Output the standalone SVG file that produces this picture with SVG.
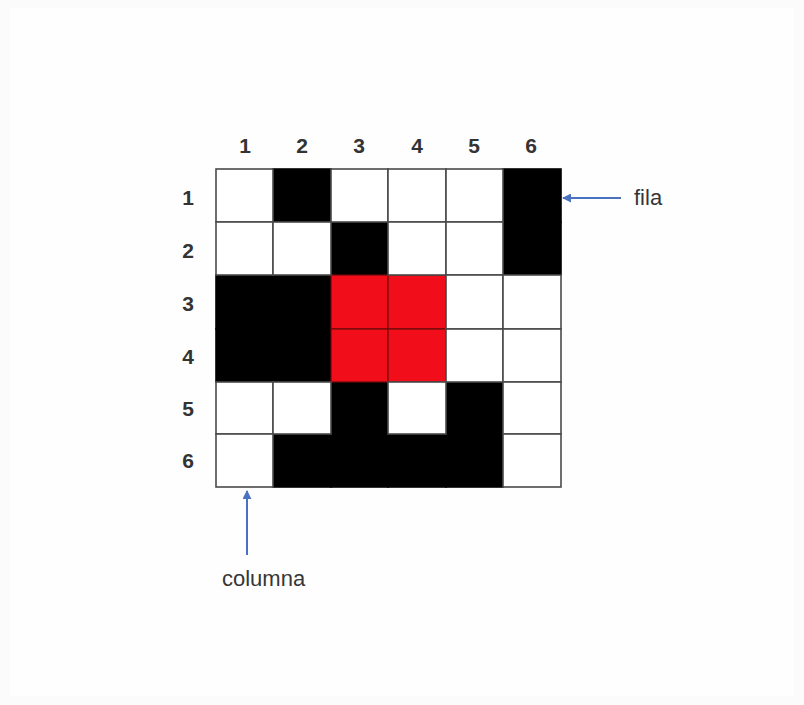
<svg xmlns="http://www.w3.org/2000/svg" width="804" height="705" viewBox="0 0 804 705">
<style>
.w{fill:#ffffff;stroke:#4a4a4a;stroke-width:1.6}
.b{fill:#000000;stroke:#000000;stroke-width:1.6}
.r{fill:#f20d1b;stroke:#6a0a0a;stroke-width:1.2}
.num{font-family:"Liberation Sans",Arial,sans-serif;font-weight:bold;font-size:21px;fill:#333333;text-anchor:middle;dominant-baseline:central}
.lbl{font-family:"Liberation Sans",Arial,sans-serif;font-size:22px;fill:#363636}
.arrow{stroke:#4a72c0;stroke-width:2;fill:none;marker-end:url(#ah)}
</style>
<defs>
<marker id="ah" viewBox="0 0 10 10" refX="9" refY="5" markerWidth="4.5" markerHeight="4.5" orient="auto" markerUnits="strokeWidth">
<path d="M0,0 L10,5 L0,10 z" fill="#4a72c0"/>
</marker>
</defs>
<rect x="0" y="0" width="804" height="705" fill="#fbfbfb"/>
<rect x="10" y="8" width="784" height="688" fill="#fefefe"/>

<g id="grid">
<g id="black-cells">
<rect class="b" x="273" y="169" width="58" height="53"/>
<rect class="b" x="503" y="169" width="58" height="53"/>
<rect class="b" x="331" y="222" width="57" height="53"/>
<rect class="b" x="503" y="222" width="58" height="53"/>
<rect class="b" x="216" y="275" width="57" height="54"/>
<rect class="b" x="273" y="275" width="58" height="54"/>
<rect class="b" x="216" y="329" width="57" height="53"/>
<rect class="b" x="273" y="329" width="58" height="53"/>
<rect class="b" x="331" y="382" width="57" height="52"/>
<rect class="b" x="446" y="382" width="57" height="52"/>
<rect class="b" x="273" y="434" width="58" height="53"/>
<rect class="b" x="331" y="434" width="57" height="53"/>
<rect class="b" x="388" y="434" width="58" height="53"/>
<rect class="b" x="446" y="434" width="57" height="53"/>
</g>
<g id="red-cells">
<rect class="r" x="331" y="275" width="57" height="54"/>
<rect class="r" x="388" y="275" width="58" height="54"/>
<rect class="r" x="331" y="329" width="57" height="53"/>
<rect class="r" x="388" y="329" width="58" height="53"/>
</g>
<g id="white-cells">
<rect class="w" x="216" y="169" width="57" height="53"/>
<rect class="w" x="331" y="169" width="57" height="53"/>
<rect class="w" x="388" y="169" width="58" height="53"/>
<rect class="w" x="446" y="169" width="57" height="53"/>
<rect class="w" x="216" y="222" width="57" height="53"/>
<rect class="w" x="273" y="222" width="58" height="53"/>
<rect class="w" x="388" y="222" width="58" height="53"/>
<rect class="w" x="446" y="222" width="57" height="53"/>
<rect class="w" x="446" y="275" width="57" height="54"/>
<rect class="w" x="503" y="275" width="58" height="54"/>
<rect class="w" x="446" y="329" width="57" height="53"/>
<rect class="w" x="503" y="329" width="58" height="53"/>
<rect class="w" x="216" y="382" width="57" height="52"/>
<rect class="w" x="273" y="382" width="58" height="52"/>
<rect class="w" x="388" y="382" width="58" height="52"/>
<rect class="w" x="503" y="382" width="58" height="52"/>
<rect class="w" x="216" y="434" width="57" height="53"/>
<rect class="w" x="503" y="434" width="58" height="53"/>
</g>
</g>

<g id="col-labels">
<text class="num" x="245" y="145">1</text>
<text class="num" x="302" y="145">2</text>
<text class="num" x="359" y="145">3</text>
<text class="num" x="417" y="145">4</text>
<text class="num" x="474" y="145">5</text>
<text class="num" x="531" y="145">6</text>
</g>
<g id="row-labels">
<text class="num" x="188" y="197">1</text>
<text class="num" x="188" y="250">2</text>
<text class="num" x="188" y="303">3</text>
<text class="num" x="188" y="356">4</text>
<text class="num" x="188" y="408">5</text>
<text class="num" x="188" y="460">6</text>
</g>

<g id="fila">
<text class="lbl" x="634" y="205">fila</text>
</g>
<g id="columna">
<text class="lbl" x="222" y="586">columna</text>
</g>

<g id="connectors">
<line class="arrow" x1="621" y1="198" x2="563" y2="198"/>
<line class="arrow" x1="247" y1="555" x2="247" y2="491"/>
</g>
</svg>
